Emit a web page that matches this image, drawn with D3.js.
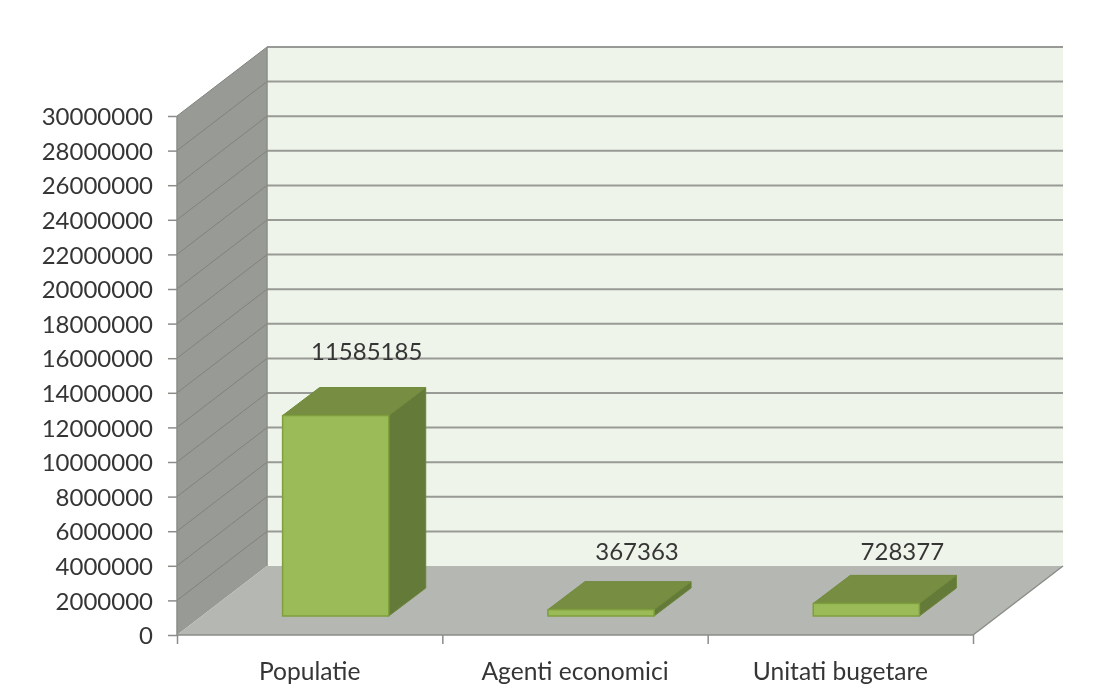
<!DOCTYPE html>
<html>
<head>
<meta charset="utf-8">
<script src="https://cdn.jsdelivr.net/npm/d3@7"></script>
<style>
  html, body { margin: 0; padding: 0; background: #fff; }
  text { font-family: Lato, "Open Sans", sans-serif; fill: #363636; }
</style>
</head>
<body>
<div id="chart"></div>
<script>
const categories = ['Populatie', 'Agenti economici', 'Unitati bugetare']
const values = [11585185, 367363, 728377]
const yTicks = d3.range(0, 30000001, 2000000)

const width = 1100
const height = 697

// front edge of the floor and the way the 3d depth shifts things
const plotLeft = 177, plotRight = 973, plotBottom = 635, plotTop = 116
const wallDx = 90, wallDy = -69
const barBaseDx = 26, barBaseDy = -19
const barDx = 37, barDy = -28
const labelShiftX = [31, 36, 36]
const labelShiftY = [56, 50, 43]

const x = d3.scaleBand().domain(categories).range([plotLeft, plotRight]).paddingInner(0.6).paddingOuter(0.3)
const y = d3.scaleLinear().domain([0, 30000000]).range([plotBottom, plotTop])

const svg = d3.select('#chart').append('svg')
    .attr('width', width)
    .attr('height', height)
    .attr('viewBox', '0 0 ' + width + ' ' + height)
    .style('display', 'block')

const defs = svg.append('defs')
defs.append('filter').attr('id', 'soft')
    .append('feGaussianBlur').attr('stdDeviation', 0.6)

const root = svg.append('g').attr('filter', 'url(#soft)')
const poly = pts => pts.map(p => p.join(',')).join(' ')

// back wall
root.append('rect')
    .attr('x', plotLeft + wallDx)
    .attr('y', y(30000000) + wallDy)
    .attr('width', plotRight - plotLeft)
    .attr('height', y(0) - y(30000000))
    .attr('fill', '#eff4ea')

// side wall
root.append('polygon')
    .attr('points', poly([
        [plotLeft, y(0)], [plotLeft, y(30000000)],
        [plotLeft + wallDx, y(30000000) + wallDy], [plotLeft + wallDx, y(0) + wallDy]
    ]))
    .attr('fill', '#989a95')

// floor
root.append('polygon')
    .attr('points', poly([
        [plotLeft, y(0)], [plotRight, y(0)],
        [plotRight + wallDx, y(0) + wallDy], [plotLeft + wallDx, y(0) + wallDy]
    ]))
    .attr('fill', '#b5b7b2')

// gridlines on both walls
root.selectAll('.grid-back')
    .data(yTicks.slice(1))
    .join('line')
    .attr('class', 'grid-back')
    .attr('x1', plotLeft + wallDx)
    .attr('x2', plotRight + wallDx)
    .attr('y1', d => y(d) + wallDy)
    .attr('y2', d => y(d) + wallDy)
    .attr('stroke', '#979a95')
    .attr('stroke-width', 2)

root.selectAll('.grid-side')
    .data(yTicks.slice(1))
    .join('line')
    .attr('class', 'grid-side')
    .attr('x1', plotLeft)
    .attr('x2', plotLeft + wallDx)
    .attr('y1', d => y(d))
    .attr('y2', d => y(d) + wallDy)
    .attr('stroke', '#80827e')
    .attr('stroke-width', 1)

root.append('line')
    .attr('x1', plotLeft + wallDx).attr('x2', plotLeft + wallDx)
    .attr('y1', y(30000000) + wallDy).attr('y2', y(0) + wallDy)
    .attr('stroke', '#8b8d89').attr('stroke-width', 1.5)

root.append('polyline')
    .attr('points', poly([[plotRight, y(0)], [plotRight + wallDx, y(0) + wallDy]]))
    .attr('fill', 'none')
    .attr('stroke', '#8b8d89')
    .attr('stroke-width', 1.5)

// bars
const bars = root.selectAll('.bar')
    .data(categories.map((c, i) => ({ c, v: values[i], i })))
    .join('g')
    .attr('class', 'bar')

const bx = d => x(d.c) + barBaseDx
const by = d => y(d.v) + barBaseDy
const bb = () => y(0) + barBaseDy

bars.append('polygon')
    .attr('points', d => poly([
        [bx(d) + x.bandwidth(), by(d)], [bx(d) + x.bandwidth() + barDx, by(d) + barDy],
        [bx(d) + x.bandwidth() + barDx, bb() + barDy], [bx(d) + x.bandwidth(), bb()]
    ]))
    .attr('fill', '#647a39')
    .attr('stroke', '#6b8438')

bars.append('polygon')
    .attr('points', d => poly([
        [bx(d), by(d)], [bx(d) + barDx, by(d) + barDy],
        [bx(d) + x.bandwidth() + barDx, by(d) + barDy], [bx(d) + x.bandwidth(), by(d)]
    ]))
    .attr('fill', '#768d42')
    .attr('stroke', '#6f8a3a')

bars.append('rect')
    .attr('x', bx)
    .attr('y', by)
    .attr('width', x.bandwidth())
    .attr('height', d => bb() - by(d))
    .attr('fill', '#9bbb59')
    .attr('stroke', '#7f9f3c')
    .attr('stroke-width', 1.5)

bars.append('text')
    .attr('x', d => bx(d) + x.bandwidth() / 2 + labelShiftX[d.i])
    .attr('y', d => by(d) - labelShiftY[d.i])
    .attr('text-anchor', 'middle')
    .style('font-size', '24px')
    .text(d => d.v)

// axes
const yAxis = root.append('g')
    .attr('transform', 'translate(' + plotLeft + ',0)')
    .call(d3.axisLeft(y).tickValues(yTicks).tickFormat(d3.format('d')).tickSize(9).tickPadding(15))

const xEdges = d3.scaleLinear().domain([0, categories.length]).range([plotLeft, plotRight])
const xAxis = root.append('g')
    .attr('transform', 'translate(0,' + plotBottom + ')')
    .call(d3.axisBottom(xEdges).tickValues(d3.range(categories.length + 1)).tickFormat('').tickSize(9))

root.selectAll('.cat')
    .data(categories)
    .join('text')
    .attr('class', 'cat')
    .attr('x', d => x(d) + x.bandwidth() / 2)
    .attr('y', 680)
    .attr('text-anchor', 'middle')
    .style('font-size', '24.6px')
    .text(d => d)

yAxis.selectAll('text').attr('y', 1).style('font-size', '24px').style('font-family', 'Lato').style('fill', '#363636')
yAxis.selectAll('line').attr('stroke', '#8b8d89').attr('stroke-width', 1.5)
yAxis.select('.domain').attr('stroke', '#8b8d89').attr('stroke-width', 1.5).attr('d', 'M0,' + plotBottom + 'V' + plotTop)
xAxis.selectAll('line').attr('stroke', '#8b8d89').attr('stroke-width', 1.5)
xAxis.select('.domain').attr('stroke', '#8b8d89').attr('stroke-width', 1.5).attr('d', 'M' + plotLeft + ',0H' + plotRight)
</script>
</body>
</html>
